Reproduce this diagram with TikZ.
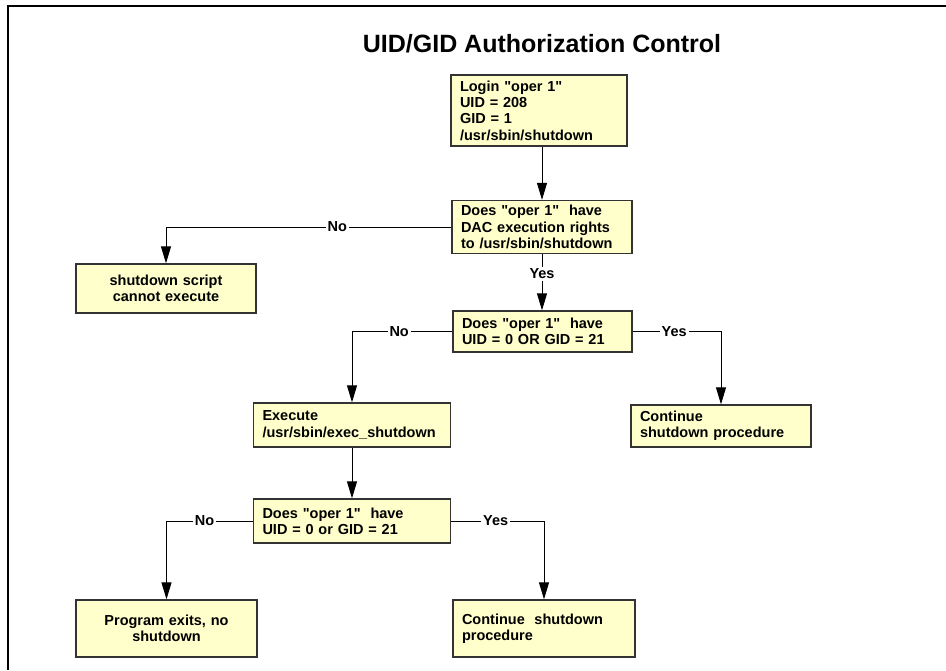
\documentclass[tikz,border=0pt]{standalone}
\usepackage{fontspec}
\setmainfont{Liberation Sans}
\newfontfamily\chartfont{Liberation Sans}
\usetikzlibrary{arrows.meta}
\definecolor{boxyellow}{HTML}{FFFFCC}
\tikzset{
  flowbox/.style={draw=black!80, line width=1.3pt, fill=boxyellow, inner xsep=9pt, inner ysep=3pt,
    font=\chartfont\bfseries\fontsize{14.5}{16.3}\selectfont, align=left,
    append after command={
      [draw=gray!60, line width=0.9pt]
      ([shift={(1.5pt,-1.5pt)}]\tikzlastnode.north west) rectangle ([shift={(-1.5pt,1.5pt)}]\tikzlastnode.south east)}},
  answer/.style={fill=white, inner sep=2pt, font=\chartfont\bfseries\fontsize{14.5}{16.3}\selectfont},
  conn/.style={->, line width=1pt},
  >={Triangle[length=17pt,width=10pt]}
}
\begin{document}
\begin{tikzpicture}[x=1pt,y=-1pt]
  \useasboundingbox (0,0) rectangle (946,670);
  % cornice
  \draw[line width=1.5pt] (8,670) -- (8,6) -- (946,6);

  \node[anchor=base, font=\chartfont\bfseries\fontsize{25}{30}\selectfont] (title) at (542,52) {UID/GID Authorization Control};

  % riquadri
  \node[flowbox, text width=158pt, minimum height=71pt] (login) at (539,110.5) {Login "oper 1"\\UID = 208\\GID = 1\\/usr/sbin/shutdown};
  \node[flowbox, text width=162pt, minimum height=53pt] (dac) at (542,227) {Does "oper 1"~ have\\DAC execution rights\\to /usr/sbin/shutdown};
  \node[flowbox, text width=162pt, minimum height=49pt, align=center] (script) at (166,288.5) {shutdown script\\cannot execute};
  \node[flowbox, text width=161pt, minimum height=41pt] (q2) at (542.5,331.5) {Does "oper 1"~ have\\UID = 0 OR GID = 21};
  \node[flowbox, text width=162pt, minimum height=42pt] (cont1) at (721,426) {Continue\\shutdown procedure};
  \node[flowbox, text width=179pt, minimum height=44pt] (exec) at (352,425) {Execute\\/usr/sbin/exec\_shutdown};
  \node[flowbox, text width=179pt, minimum height=44pt] (q3) at (352,521) {Does "oper 1"~ have\\UID = 0 or GID = 21};
  \node[flowbox, text width=163pt, minimum height=57pt, align=center] (exits) at (166.5,628.5) {Program exits, no\\shutdown};
  \node[flowbox, text width=164pt, minimum height=57pt] (cont2) at (544,628.5) {Continue~ shutdown\\procedure};

  % frecce
  \draw[conn] (dac.north |- login.south) -- (dac.north);
  \draw[conn] (dac.west) -- node[answer, pos=0.4] {No} (script.north |- dac.west) -- (script.north);
  \draw[conn] (dac.south) -- node[answer, pos=0.35] {Yes} (dac.south |- q2.north);
  \draw[conn] (q2.west) -- node[answer, pos=0.53] {No} (exec.north |- q2.west) -- (exec.north);
  \draw[conn] (q2.east) -- node[answer, pos=0.47] {Yes} (cont1.north |- q2.east) -- (cont1.north);
  \draw[conn] (exec.south) -- (q3.north);
  \draw[conn] (q3.west) -- node[answer, pos=0.56] {No} (exits.north |- q3.west) -- (exits.north);
  \draw[conn] (q3.east) -- node[answer, pos=0.48] {Yes} (cont2.north |- q3.east) -- (cont2.north);
\end{tikzpicture}
\end{document}
